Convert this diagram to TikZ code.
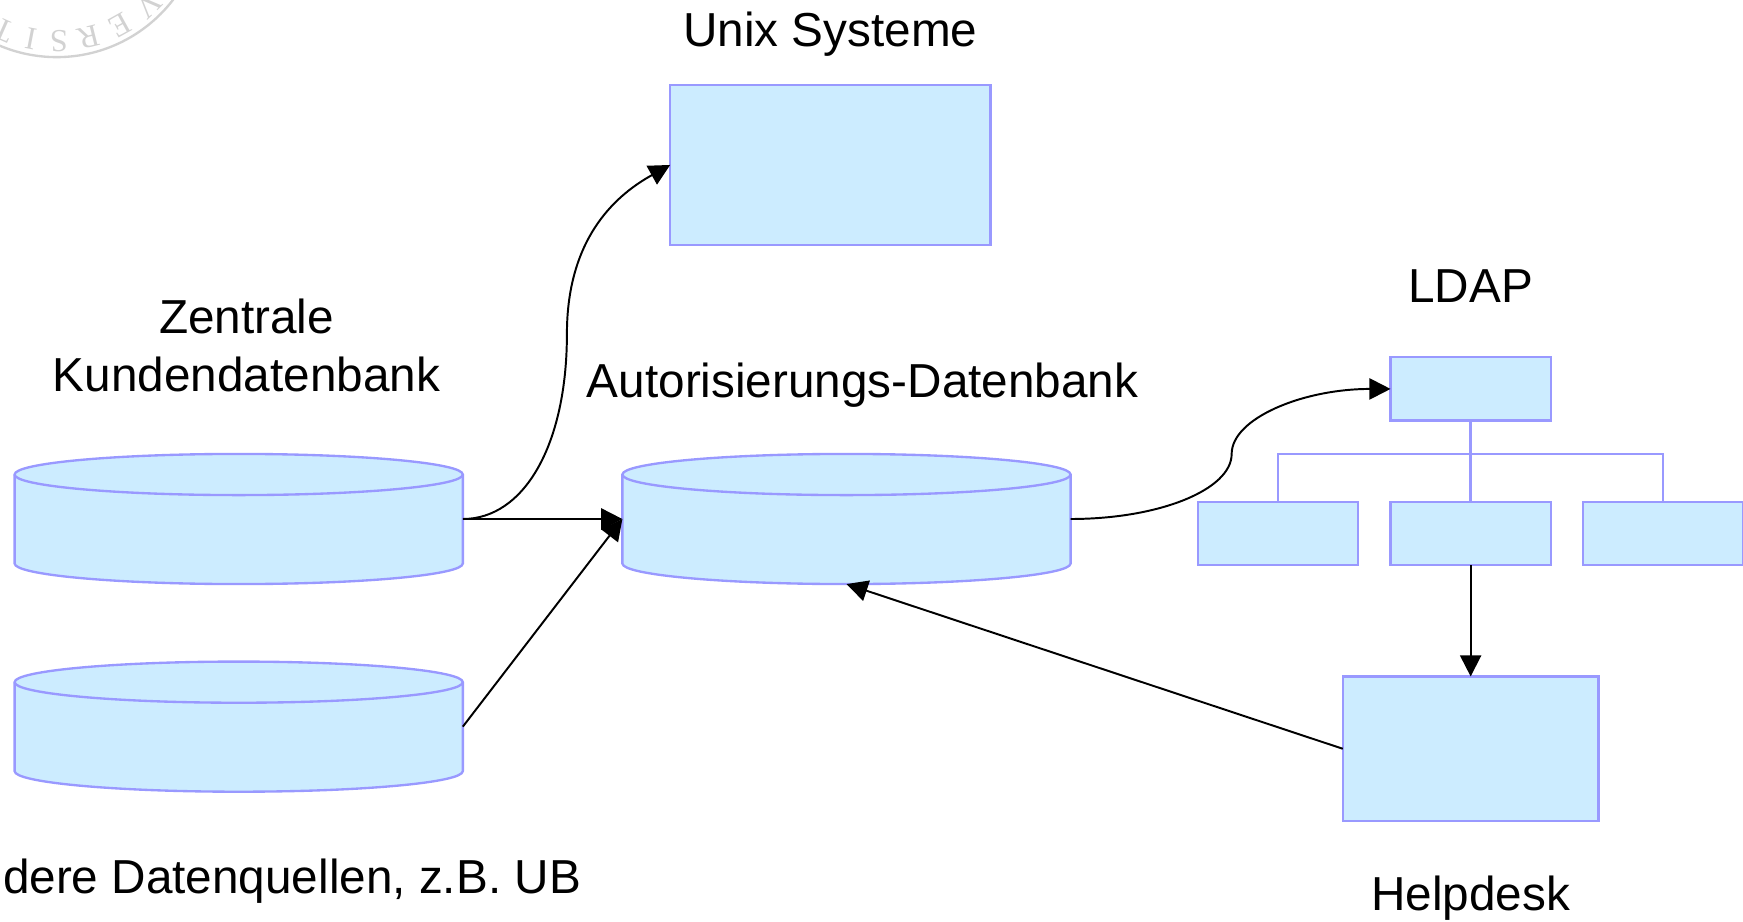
\documentclass[tikz,border=0pt]{standalone}
\usepackage{fontspec}
\setmainfont{Liberation Sans}
\newfontfamily\sealfont{Liberation Serif}
\usetikzlibrary{arrows.meta, positioning, calc}

\definecolor{boxfill}{RGB}{204,236,255}
\definecolor{boxline}{RGB}{153,153,255}
\definecolor{sealgray}{RGB}{210,210,210}

% Zylinder um einen benannten Knoten zeichnen
\newcommand{\datenbank}[1]{%
  \filldraw[dbline] ([yshift=-0.185cm]#1.north west) -- ([yshift=0.185cm]#1.south west)
    arc[start angle=180, end angle=360, x radius=2.015cm, y radius=0.185cm]
    -- ([yshift=-0.185cm]#1.north east)
    arc[start angle=0, end angle=180, x radius=2.015cm, y radius=0.185cm] -- cycle;
  \draw[dbline, fill=none] ([yshift=-0.185cm]#1.north west)
    arc[start angle=180, end angle=360, x radius=2.015cm, y radius=0.185cm];}

\begin{document}
\begin{tikzpicture}[x=0.01cm, y=0.01cm,
    box/.style={draw=boxline, fill=boxfill, line width=0.6pt, inner sep=0, outer sep=0},
    leaf/.style={box, minimum width=1.44cm, minimum height=0.57cm},
    db/.style={minimum width=4.03cm, minimum height=1.17cm, inner sep=0, outer sep=0},
    dbline/.style={draw=boxline, fill=boxfill, line width=0.6pt},
    tree/.style={draw=boxline, line width=0.6pt},
    arrow/.style={-{Triangle[length=0.19cm, width=0.19cm]}, line width=0.5pt},
    lbl/.style={font=\fontsize{12.2}{14.8}\selectfont, inner sep=0, align=center},
    seal/.style={font=\sealfont\fontsize{8.2}{9}\selectfont, text=sealgray, inner sep=0}]

  \useasboundingbox (0,0) rectangle (1568,829.4);

  % Siegel
  \begin{scope}
    \clip (0,0) rectangle (1568,829.4);
    \coordinate (sealc) at (51,910);
    \draw[sealgray, line width=0.6pt] (sealc) circle[radius=132];
    \foreach \ch/\ang in {T/-114, I/-101, S/-89, R/-76, E/-61, V/-46}
      \node[seal, rotate=\ang-90] at ($(sealc)+(\ang:118)$) {\ch};
  \end{scope}

  % Datenbanken
  \node[db] (zentral) at (214.75,362.5) {};
  \node[db] (andere) at (214.75,175.7) {};
  \node[db] (autor) at (761.5,362.5) {};
  \datenbank{zentral}
  \datenbank{andere}
  \datenbank{autor}

  % Systeme
  \node[box, minimum width=2.88cm, minimum height=1.44cm] (unix) at (747,681) {};
  \node[leaf] (ldap) at (1323,479.5) {};
  \node[leaf, below=0.73cm of ldap] (ldapm) {};
  \node[leaf, left=0.29cm of ldapm] (ldapl) {};
  \node[leaf, right=0.29cm of ldapm] (ldapr) {};
  \node[box, minimum width=2.30cm, minimum height=1.30cm, below=1cm of ldapm] (helpdesk) {};

  % Beschriftungen
  \node[lbl, above=0.245cm of unix] (unixlbl) {Unix Systeme};
  \node[lbl, above=0.485cm of ldap] (ldaplbl) {LDAP};
  \node[lbl, below=0.49cm of helpdesk] (helplbl) {Helpdesk};
  \node[lbl, above=0.55cm of zentral, xshift=0.07cm] (zentrallbl) {Zentrale\\Kundendatenbank};
  \node[lbl, above=0.414cm of autor, xshift=0.145cm] (autorlbl) {Autorisierungs-Datenbank};
  \node[lbl, anchor=base west] (anderelbl) at (2,26) {dere Datenquellen, z.B. UB};

  % LDAP-Baum
  \coordinate (bus) at ($(ldap.south)!0.41!(ldapm.north)$);
  \draw[tree] (ldap.south) -- (ldapm.north);
  \draw[tree] (ldapl.north) |- (bus) -| (ldapr.north);

  % Verbindungen
  \draw[arrow] (zentral.east) -- (autor.west);
  \draw[arrow] (andere.east) -- (autor.west);
  \draw[arrow] (zentral.east) .. controls +(55,0) and +(0,-100) .. (510,529)
    .. controls +(0,90) and +(-45,-25) .. (unix.west);
  \draw[arrow] (autor.east) .. controls +(80,0) and +(0,-32) .. (1108,421)
    .. controls +(0,32) and +(-79,0) .. (ldap.west);
  \draw[arrow] (ldapm.south) -- (helpdesk.north);
  \draw[arrow] (helpdesk.west) -- (autor.south);
\end{tikzpicture}
\end{document}
